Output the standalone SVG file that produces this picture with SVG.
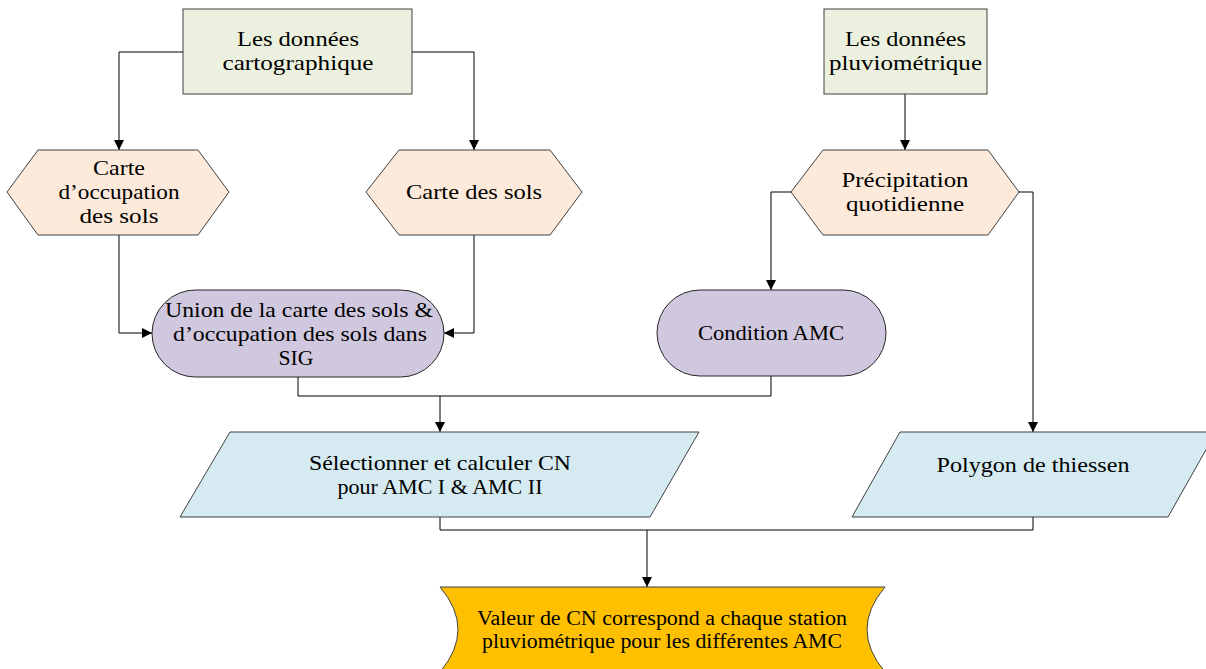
<svg xmlns="http://www.w3.org/2000/svg" width="1206" height="669" viewBox="0 0 1206 669">
<defs>
<style>
.t{font-family:"Liberation Serif","Times New Roman",serif;font-size:21px;fill:#000;text-anchor:middle}
.s{font-size:20px}
.box{fill:#EBF1DE;stroke:#404040;stroke-width:1}
.hex{fill:#FDEADA;stroke:#404040;stroke-width:1}
.stad{fill:#D0C8DE;stroke:#262626;stroke-width:1}
.par{fill:#D5EBF1;stroke:#404040;stroke-width:1}
.fin{fill:#FFC000;stroke:#404040;stroke-width:1}
.c{fill:none;stroke:#000;stroke-width:1}
</style>
<marker id="arr" viewBox="0 0 10 10" refX="10" refY="5" markerWidth="10" markerHeight="10" markerUnits="userSpaceOnUse" orient="auto">
<path d="M0,0 L10,5 L0,10 Z" fill="#000"/>
</marker>
</defs>
<rect width="1206" height="669" fill="#fff"/>

<g id="connectors">
<polyline class="c" points="183,52 119,52 119,150" marker-end="url(#arr)"/>
<polyline class="c" points="412,52 474,52 474,150" marker-end="url(#arr)"/>
<polyline class="c" points="905,94 905,150" marker-end="url(#arr)"/>
<polyline class="c" points="119,235 119,333 152,333" marker-end="url(#arr)"/>
<polyline class="c" points="474,235 474,333 444,333" marker-end="url(#arr)"/>
<polyline class="c" points="791,192 771,192 771,290" marker-end="url(#arr)"/>
<polyline class="c" points="1019,192 1033,192 1033,432" marker-end="url(#arr)"/>
<polyline class="c" points="298,377 298,396 771,396 771,376"/>
<polyline class="c" points="440,396 440,432" marker-end="url(#arr)"/>
<polyline class="c" points="440,517 440,530 1033,530 1033,517"/>
<polyline class="c" points="647,530 647,587" marker-end="url(#arr)"/>
</g>

<g id="n-carto">
<rect class="box" x="183" y="9" width="229" height="85"/>
<text class="t" x="298" y="46" textLength="122" lengthAdjust="spacingAndGlyphs">Les données</text>
<text class="t" x="298" y="70" textLength="151" lengthAdjust="spacingAndGlyphs">cartographique</text>
</g>

<g id="n-pluvio">
<rect class="box" x="824" y="9" width="163" height="85"/>
<text class="t" x="905.5" y="46" textLength="121" lengthAdjust="spacingAndGlyphs">Les données</text>
<text class="t" x="905.5" y="70" textLength="153" lengthAdjust="spacingAndGlyphs">pluviométrique</text>
</g>

<g id="n-occup">
<polygon class="hex" points="7,192 38,150 198,150 229,192 198,235 38,235"/>
<text class="t" x="119" y="175" textLength="52" lengthAdjust="spacingAndGlyphs">Carte</text>
<text class="t" x="119" y="199" textLength="121" lengthAdjust="spacingAndGlyphs">d’occupation</text>
<text class="t" x="119" y="223" textLength="79" lengthAdjust="spacingAndGlyphs">des sols</text>
</g>

<g id="n-sols">
<polygon class="hex" points="366,192 399,150 550,150 582,192 550,235 399,235"/>
<text class="t" x="474" y="199" textLength="136" lengthAdjust="spacingAndGlyphs">Carte des sols</text>
</g>

<g id="n-precip">
<polygon class="hex" points="791,192 823,150 988,150 1019,192 988,235 823,235"/>
<text class="t" x="905" y="187" textLength="127" lengthAdjust="spacingAndGlyphs">Précipitation</text>
<text class="t" x="905" y="211" textLength="118" lengthAdjust="spacingAndGlyphs">quotidienne</text>
</g>

<g id="n-union">
<rect class="stad" x="152" y="290" width="292" height="87" rx="43.5" ry="43.5"/>
<text class="t" x="299" y="317" textLength="268" lengthAdjust="spacingAndGlyphs">Union de la carte des sols &amp;</text>
<text class="t" x="300" y="341" textLength="254" lengthAdjust="spacingAndGlyphs">d’occupation des sols dans</text>
<text class="t" x="296" y="365" textLength="35" lengthAdjust="spacingAndGlyphs">SIG</text>
</g>

<g id="n-amc">
<rect class="stad" x="657" y="290" width="229" height="86" rx="43" ry="43"/>
<text class="t" x="771" y="340" textLength="146" lengthAdjust="spacingAndGlyphs">Condition AMC</text>
</g>

<g id="n-cn">
<polygon class="par" points="230,432 699,432 650,517 180,517"/>
<text class="t" x="440" y="470" textLength="262" lengthAdjust="spacingAndGlyphs">Sélectionner et calculer CN</text>
<text class="t" x="440" y="494" textLength="205" lengthAdjust="spacingAndGlyphs">pour AMC I &amp; AMC II</text>
</g>

<g id="n-thiessen">
<polygon class="par" points="900,432 1216,432 1168,517 852,517"/>
<text class="t" x="1033" y="472" textLength="193" lengthAdjust="spacingAndGlyphs">Polygon de thiessen</text>
</g>

<g id="n-final">
<path class="fin" d="M440,587 L885,587 Q849,629.5 885,672 L440,672 Q476,629.5 440,587 Z"/>
<text class="t s" x="662" y="625" textLength="370" lengthAdjust="spacingAndGlyphs">Valeur de CN correspond a chaque station</text>
<text class="t s" x="662" y="648" textLength="360" lengthAdjust="spacingAndGlyphs">pluviométrique pour les différentes AMC</text>
</g>
</svg>
